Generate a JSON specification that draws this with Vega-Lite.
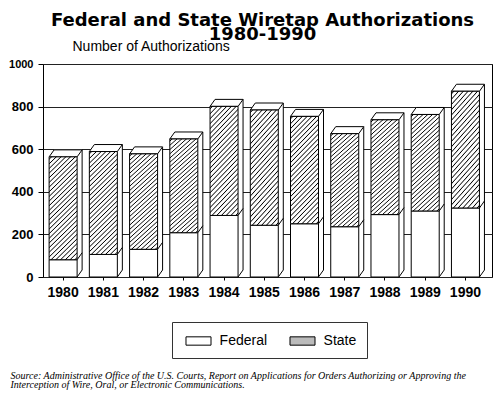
{
  "$schema": "https://vega.github.io/schema/vega-lite/v6.json",
  "width": 449,
  "height": 213,
  "autosize": "none",
  "padding": {"left": 43, "top": 64, "right": 8, "bottom": 119},
  "background": "white",
  "title": {
    "text": ["Federal and State Wiretap Authorizations", "1980-1990"],
    "anchor": "middle",
    "font": "DejaVu Sans",
    "fontWeight": "bold",
    "fontSize": 18,
    "lineHeight": 14.5,
    "color": "black",
    "offset": 22,
    "dx": -5,
    "dy": 27
  },
  "data": {
    "values": [
      {"year": "1980", "type": "Federal", "value": 81},
      {"year": "1980", "type": "State", "value": 483},
      {"year": "1981", "type": "Federal", "value": 106},
      {"year": "1981", "type": "State", "value": 483},
      {"year": "1982", "type": "Federal", "value": 130},
      {"year": "1982", "type": "State", "value": 448},
      {"year": "1983", "type": "Federal", "value": 208},
      {"year": "1983", "type": "State", "value": 440},
      {"year": "1984", "type": "Federal", "value": 289},
      {"year": "1984", "type": "State", "value": 512},
      {"year": "1985", "type": "Federal", "value": 243},
      {"year": "1985", "type": "State", "value": 541},
      {"year": "1986", "type": "Federal", "value": 250},
      {"year": "1986", "type": "State", "value": 504},
      {"year": "1987", "type": "Federal", "value": 236},
      {"year": "1987", "type": "State", "value": 437},
      {"year": "1988", "type": "Federal", "value": 293},
      {"year": "1988", "type": "State", "value": 445},
      {"year": "1989", "type": "Federal", "value": 310},
      {"year": "1989", "type": "State", "value": 453},
      {"year": "1990", "type": "Federal", "value": 324},
      {"year": "1990", "type": "State", "value": 548}
    ]
  },
  "layer": [
    {
      "mark": {"type": "bar", "width": 28, "fill": "white", "strokeWidth": 0, "xOffset": 5, "yOffset": -7, "y2Offset": -7},
      "encoding": {
        "x": {"field": "year", "type": "ordinal", "scale": {"type": "band", "paddingInner": 0, "paddingOuter": 0.08, "align": 0}},
        "y": {"aggregate": "sum", "field": "value", "type": "quantitative", "scale": {"domain": [0, 1000]}},
        "y2": {"datum": 0}
      }
    },
    {
      "mark": {"type": "rule", "color": "black", "strokeWidth": 1, "xOffset": 19, "yOffset": -7, "y2Offset": -7},
      "encoding": {
        "x": {"field": "year", "type": "ordinal"},
        "y": {"aggregate": "sum", "field": "value", "type": "quantitative"},
        "y2": {"datum": 0}
      }
    },
    {
      "mark": {"type": "point", "shape": "M-14,0L14,0L19,-7L-9,-7Z", "size": 4, "filled": true, "fill": "white", "stroke": "black", "strokeWidth": 1, "opacity": 1},
      "encoding": {
        "x": {"field": "year", "type": "ordinal"},
        "y": {"aggregate": "sum", "field": "value", "type": "quantitative"}
      }
    },
    {
      "transform": [{"filter": "datum.type === 'Federal'"}],
      "mark": {"type": "point", "shape": "M14,0L19,-7", "size": 4, "filled": false, "stroke": "black", "strokeWidth": 1, "opacity": 1},
      "encoding": {
        "x": {"field": "year", "type": "ordinal"},
        "y": {"field": "value", "type": "quantitative"}
      }
    },
    {
      "transform": [{"filter": "datum.type === 'Federal'"}],
      "mark": {"type": "point", "shape": "M14,0L19,-7", "size": 4, "filled": false, "stroke": "black", "strokeWidth": 1, "opacity": 1},
      "encoding": {
        "x": {"field": "year", "type": "ordinal"},
        "y": {"datum": 0, "type": "quantitative"}
      }
    },
    {
      "mark": {"type": "bar", "width": 28, "stroke": "black", "strokeWidth": 1},
      "encoding": {
        "x": {
          "field": "year", "type": "ordinal",
          "axis": {
            "labelAngle": 0, "labelAlign": "center", "labelBaseline": "top",
            "labelFont": "Liberation Sans", "labelFontWeight": "bold", "labelFontSize": 14, "labelColor": "black",
            "labelPadding": 5, "tickSize": 3, "tickColor": "black", "domain": false, "grid": false,
            "title": ["Source: Administrative Office of the U.S. Courts, Report on Applications for Orders Authorizing or Approving the", "Interception of Wire, Oral, or Electronic Communications."],
            "titleFont": "Liberation Serif", "titleFontStyle": "italic", "titleFontWeight": "normal", "titleFontSize": 10,
            "titleLineHeight": 9, "titleAlign": "left", "titleAnchor": "start", "titleBaseline": "alphabetic",
            "titleX": -33, "titleY": 101, "titleColor": "black"
          }
        },
        "y": {
          "field": "value", "type": "quantitative", "stack": "zero",
          "axis": {
            "values": [0, 200, 400, 600, 800, 1000], "format": "d", "grid": true, "gridColor": "#222", "gridWidth": 1, "domain": false,
            "tickSize": 5, "tickColor": "black", "labelFont": "Liberation Sans", "labelFontWeight": "bold",
            "labelAlign": "right", "labelBaseline": "middle",
            "labelFontSize": {"condition": {"test": "datum.value === 1000", "value": 11}, "value": 13},
            "labelColor": "black", "labelPadding": 5,
            "title": "Number of Authorizations", "titleAngle": 0, "titleAlign": "left", "titleBaseline": "alphabetic",
            "titleX": 29, "titleY": -14, "titleFont": "Liberation Sans", "titleFontSize": 14, "titleFontWeight": "normal", "titleColor": "black"
          }
        },
        "order": {"field": "type", "sort": "ascending"},
        "fill": {
          "field": "type", "type": "nominal",
          "scale": {"domain": ["Federal", "State"], "range": ["white", "#bbbbbb"]},
          "condition": {
            "test": "datum.type === 'State'",
            "value": {
              "gradient": "linear", "x1": 0, "y1": 0, "x2": 0.316, "y2": 1.183,
              "stops": [
                {"offset": 0, "color": "white"},
                {"offset": 0.0099, "color": "white"}, {"offset": 0.0179, "color": "black"}, {"offset": 0.0259, "color": "white"},
                {"offset": 0.0456, "color": "white"}, {"offset": 0.0536, "color": "black"}, {"offset": 0.0616, "color": "white"},
                {"offset": 0.0813, "color": "white"}, {"offset": 0.0893, "color": "black"}, {"offset": 0.0973, "color": "white"},
                {"offset": 0.117, "color": "white"}, {"offset": 0.125, "color": "black"}, {"offset": 0.133, "color": "white"},
                {"offset": 0.1527, "color": "white"}, {"offset": 0.1607, "color": "black"}, {"offset": 0.1687, "color": "white"},
                {"offset": 0.1884, "color": "white"}, {"offset": 0.1964, "color": "black"}, {"offset": 0.2044, "color": "white"},
                {"offset": 0.2241, "color": "white"}, {"offset": 0.2321, "color": "black"}, {"offset": 0.2401, "color": "white"},
                {"offset": 0.2599, "color": "white"}, {"offset": 0.2679, "color": "black"}, {"offset": 0.2759, "color": "white"},
                {"offset": 0.2956, "color": "white"}, {"offset": 0.3036, "color": "black"}, {"offset": 0.3116, "color": "white"},
                {"offset": 0.3313, "color": "white"}, {"offset": 0.3393, "color": "black"}, {"offset": 0.3473, "color": "white"},
                {"offset": 0.367, "color": "white"}, {"offset": 0.375, "color": "black"}, {"offset": 0.383, "color": "white"},
                {"offset": 0.4027, "color": "white"}, {"offset": 0.4107, "color": "black"}, {"offset": 0.4187, "color": "white"},
                {"offset": 0.4384, "color": "white"}, {"offset": 0.4464, "color": "black"}, {"offset": 0.4544, "color": "white"},
                {"offset": 0.4741, "color": "white"}, {"offset": 0.4821, "color": "black"}, {"offset": 0.4901, "color": "white"},
                {"offset": 0.5099, "color": "white"}, {"offset": 0.5179, "color": "black"}, {"offset": 0.5259, "color": "white"},
                {"offset": 0.5456, "color": "white"}, {"offset": 0.5536, "color": "black"}, {"offset": 0.5616, "color": "white"},
                {"offset": 0.5813, "color": "white"}, {"offset": 0.5893, "color": "black"}, {"offset": 0.5973, "color": "white"},
                {"offset": 0.617, "color": "white"}, {"offset": 0.625, "color": "black"}, {"offset": 0.633, "color": "white"},
                {"offset": 0.6527, "color": "white"}, {"offset": 0.6607, "color": "black"}, {"offset": 0.6687, "color": "white"},
                {"offset": 0.6884, "color": "white"}, {"offset": 0.6964, "color": "black"}, {"offset": 0.7044, "color": "white"},
                {"offset": 0.7241, "color": "white"}, {"offset": 0.7321, "color": "black"}, {"offset": 0.7401, "color": "white"},
                {"offset": 0.7599, "color": "white"}, {"offset": 0.7679, "color": "black"}, {"offset": 0.7759, "color": "white"},
                {"offset": 0.7956, "color": "white"}, {"offset": 0.8036, "color": "black"}, {"offset": 0.8116, "color": "white"},
                {"offset": 0.8313, "color": "white"}, {"offset": 0.8393, "color": "black"}, {"offset": 0.8473, "color": "white"},
                {"offset": 0.867, "color": "white"}, {"offset": 0.875, "color": "black"}, {"offset": 0.883, "color": "white"},
                {"offset": 0.9027, "color": "white"}, {"offset": 0.9107, "color": "black"}, {"offset": 0.9187, "color": "white"},
                {"offset": 0.9384, "color": "white"}, {"offset": 0.9464, "color": "black"}, {"offset": 0.9544, "color": "white"},
                {"offset": 0.9741, "color": "white"}, {"offset": 0.9821, "color": "black"}, {"offset": 0.9901, "color": "white"},
                {"offset": 1, "color": "white"}
              ]
            }
          },
          "legend": {
            "orient": "none", "legendX": 129, "legendY": 258, "direction": "horizontal", "title": null,
            "padding": 10, "strokeColor": "#333", "fillColor": "white",
            "symbolType": "M-0.6,-0.5L2.4,-0.5L2.4,0.5L-0.6,0.5Z", "symbolSize": 278,
            "symbolStrokeColor": "black", "symbolStrokeWidth": 1,
            "labelFont": "Liberation Sans", "labelFontSize": 14, "labelColor": "black", "labelOffset": 19.6,
            "columnPadding": 18
          }
        }
      }
    }
  ],
  "config": {
    "view": {"stroke": "black", "strokeWidth": 1}
  }
}
